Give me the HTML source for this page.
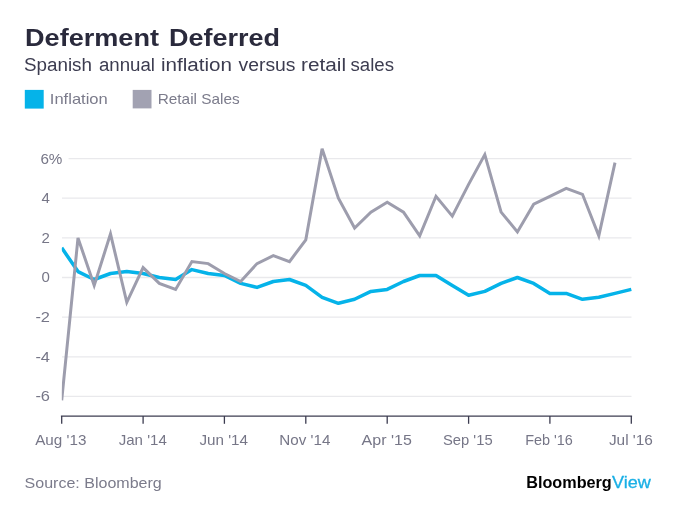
<!DOCTYPE html>
<html><head><meta charset="utf-8"><title>Deferment Deferred</title>
<style>
html,body{margin:0;padding:0;background:#fff;}
body{width:681px;height:517px;overflow:hidden;position:relative;font-family:"Liberation Sans",sans-serif;}
svg{position:absolute;left:0;top:0;}
text{font-family:"Liberation Sans",sans-serif;}
.title{font-size:23px;font-weight:bold;fill:#2a2a3c;}
.sub{font-size:18px;fill:#3c3c50;}
.leg{font-size:15px;fill:#7b7b8b;}
.ax{font-size:15px;fill:#767687;}
.xl{font-size:14.8px;fill:#767687;}
.src{font-size:15.5px;fill:#7b7b8b;}
.bb{font-size:16.6px;font-weight:bold;fill:#000;}
.bv{font-size:16.6px;fill:#1ab0e6;stroke:#1ab0e6;stroke-width:0.3px;}
</style></head><body>
<svg width="681" height="517" viewBox="0 0 681 517">
<text x="25.00" y="45.8" class="title" textLength="134.00" lengthAdjust="spacingAndGlyphs">Deferment</text>
<text x="169.00" y="45.8" class="title" textLength="111.00" lengthAdjust="spacingAndGlyphs">Deferred</text>
<text x="24.00" y="71" class="sub" textLength="68.00" lengthAdjust="spacingAndGlyphs">Spanish</text>
<text x="99.00" y="71" class="sub" textLength="56.00" lengthAdjust="spacingAndGlyphs">annual</text>
<text x="161.00" y="71" class="sub" textLength="71.00" lengthAdjust="spacingAndGlyphs">inflation</text>
<text x="238.50" y="71" class="sub" textLength="57.00" lengthAdjust="spacingAndGlyphs">versus</text>
<text x="301.00" y="71" class="sub" textLength="45.00" lengthAdjust="spacingAndGlyphs">retail</text>
<text x="350.50" y="71" class="sub" textLength="43.50" lengthAdjust="spacingAndGlyphs">sales</text>
<rect x="24.8" y="89.9" width="18.9" height="18.7" fill="#05b3e9"/>
<text x="49.8" y="103.8" class="leg" textLength="58" lengthAdjust="spacingAndGlyphs">Inflation</text>
<rect x="132.7" y="89.9" width="18.8" height="18.5" fill="#a2a2b2"/>
<text x="157.7" y="103.8" class="leg" textLength="82" lengthAdjust="spacingAndGlyphs">Retail Sales</text>
<line x1="68.6" y1="158.6" x2="631.5" y2="158.6" stroke="#e9e9ec" stroke-width="1.3"/>
<text x="40.4" y="163.5" class="ax" textLength="22" lengthAdjust="spacingAndGlyphs">6%</text>
<line x1="62.0" y1="198.2" x2="631.5" y2="198.2" stroke="#e9e9ec" stroke-width="1.3"/>
<text x="49.8" y="203.1" class="ax" text-anchor="end">4</text>
<line x1="62.0" y1="237.9" x2="631.5" y2="237.9" stroke="#e9e9ec" stroke-width="1.3"/>
<text x="49.8" y="242.8" class="ax" text-anchor="end">2</text>
<line x1="62.0" y1="277.5" x2="631.5" y2="277.5" stroke="#e9e9ec" stroke-width="1.3"/>
<text x="49.8" y="282.4" class="ax" text-anchor="end">0</text>
<line x1="62.0" y1="317.1" x2="631.5" y2="317.1" stroke="#e9e9ec" stroke-width="1.3"/>
<text x="35.4" y="322.0" class="ax" textLength="14.6" lengthAdjust="spacingAndGlyphs">-2</text>
<line x1="62.0" y1="356.8" x2="631.5" y2="356.8" stroke="#e9e9ec" stroke-width="1.3"/>
<text x="35.4" y="361.7" class="ax" textLength="14.6" lengthAdjust="spacingAndGlyphs">-4</text>
<line x1="62.0" y1="396.4" x2="631.5" y2="396.4" stroke="#e9e9ec" stroke-width="1.3"/>
<text x="35.4" y="401.3" class="ax" textLength="14.6" lengthAdjust="spacingAndGlyphs">-6</text>

<defs><clipPath id="plot"><rect x="61.8" y="130" width="580" height="280"/></clipPath></defs>
<g clip-path="url(#plot)">
<polyline points="61.7,247.8 78.0,271.6 94.2,279.5 110.5,273.5 126.8,271.6 143.1,273.5 159.3,277.5 175.6,279.5 191.9,269.6 208.2,273.5 224.4,275.5 240.7,283.4 257.0,287.4 273.3,281.5 289.5,279.5 305.8,285.4 322.1,297.3 338.4,303.3 354.6,299.3 370.9,291.4 387.2,289.4 403.5,281.5 419.7,275.5 436.0,275.5 452.3,285.4 468.6,295.3 484.8,291.4 501.1,283.4 517.4,277.5 533.7,283.4 549.9,293.4 566.2,293.4 582.5,299.3 598.8,297.3 615.0,293.4 631.3,289.4" fill="none" stroke="#05b3e9" stroke-width="3.5" stroke-linejoin="round"/>
<polyline points="61.7,400.4 78.0,237.9 94.2,285.4 110.5,233.9 126.8,302.3 143.1,267.6 159.3,283.4 175.6,289.4 191.9,261.6 208.2,263.6 224.4,273.5 240.7,281.5 257.0,263.6 273.3,255.7 289.5,261.6 305.8,239.8 322.1,148.7 338.4,198.2 354.6,228.0 370.9,212.1 387.2,202.2 403.5,212.1 419.7,235.9 436.0,196.3 452.3,216.1 468.6,184.4 484.8,154.6 501.1,212.1 517.4,231.9 533.7,204.2 549.9,196.3 566.2,188.3 582.5,194.3 598.8,235.9 615.0,162.6" fill="none" stroke="#9d9dad" stroke-width="3" stroke-linejoin="miter"/>
</g>
<line x1="60.9" y1="416.1" x2="632.1" y2="416.1" stroke="#3c3c50" stroke-width="1.3"/>
<line x1="61.7" y1="416" x2="61.7" y2="423.8" stroke="#3c3c50" stroke-width="1.3"/>
<text x="35.2" y="445.2" class="xl" textLength="51.2" lengthAdjust="spacingAndGlyphs">Aug '13</text>
<line x1="143.1" y1="416" x2="143.1" y2="423.8" stroke="#3c3c50" stroke-width="1.3"/>
<text x="118.7" y="445.2" class="xl" textLength="48.1" lengthAdjust="spacingAndGlyphs">Jan '14</text>
<line x1="224.4" y1="416" x2="224.4" y2="423.8" stroke="#3c3c50" stroke-width="1.3"/>
<text x="199.4" y="445.2" class="xl" textLength="48.6" lengthAdjust="spacingAndGlyphs">Jun '14</text>
<line x1="305.8" y1="416" x2="305.8" y2="423.8" stroke="#3c3c50" stroke-width="1.3"/>
<text x="279.3" y="445.2" class="xl" textLength="51.1" lengthAdjust="spacingAndGlyphs">Nov '14</text>
<line x1="387.2" y1="416" x2="387.2" y2="423.8" stroke="#3c3c50" stroke-width="1.3"/>
<text x="361.6" y="445.2" class="xl" textLength="50.2" lengthAdjust="spacingAndGlyphs">Apr '15</text>
<line x1="468.6" y1="416" x2="468.6" y2="423.8" stroke="#3c3c50" stroke-width="1.3"/>
<text x="443.0" y="445.2" class="xl" textLength="49.6" lengthAdjust="spacingAndGlyphs">Sep '15</text>
<line x1="549.9" y1="416" x2="549.9" y2="423.8" stroke="#3c3c50" stroke-width="1.3"/>
<text x="525.2" y="445.2" class="xl" textLength="47.7" lengthAdjust="spacingAndGlyphs">Feb '16</text>
<line x1="631.3" y1="416" x2="631.3" y2="423.8" stroke="#3c3c50" stroke-width="1.3"/>
<text x="608.9" y="445.2" class="xl" textLength="44.0" lengthAdjust="spacingAndGlyphs">Jul '16</text>

<text x="24.6" y="487.9" class="src" textLength="137.2" lengthAdjust="spacingAndGlyphs">Source: Bloomberg</text>
<text x="526.2" y="487.8" class="bb" textLength="85.6" lengthAdjust="spacingAndGlyphs">Bloomberg</text><text x="612" y="487.8" class="bv" textLength="38.8" lengthAdjust="spacingAndGlyphs">View</text>
</svg>
</body></html>
